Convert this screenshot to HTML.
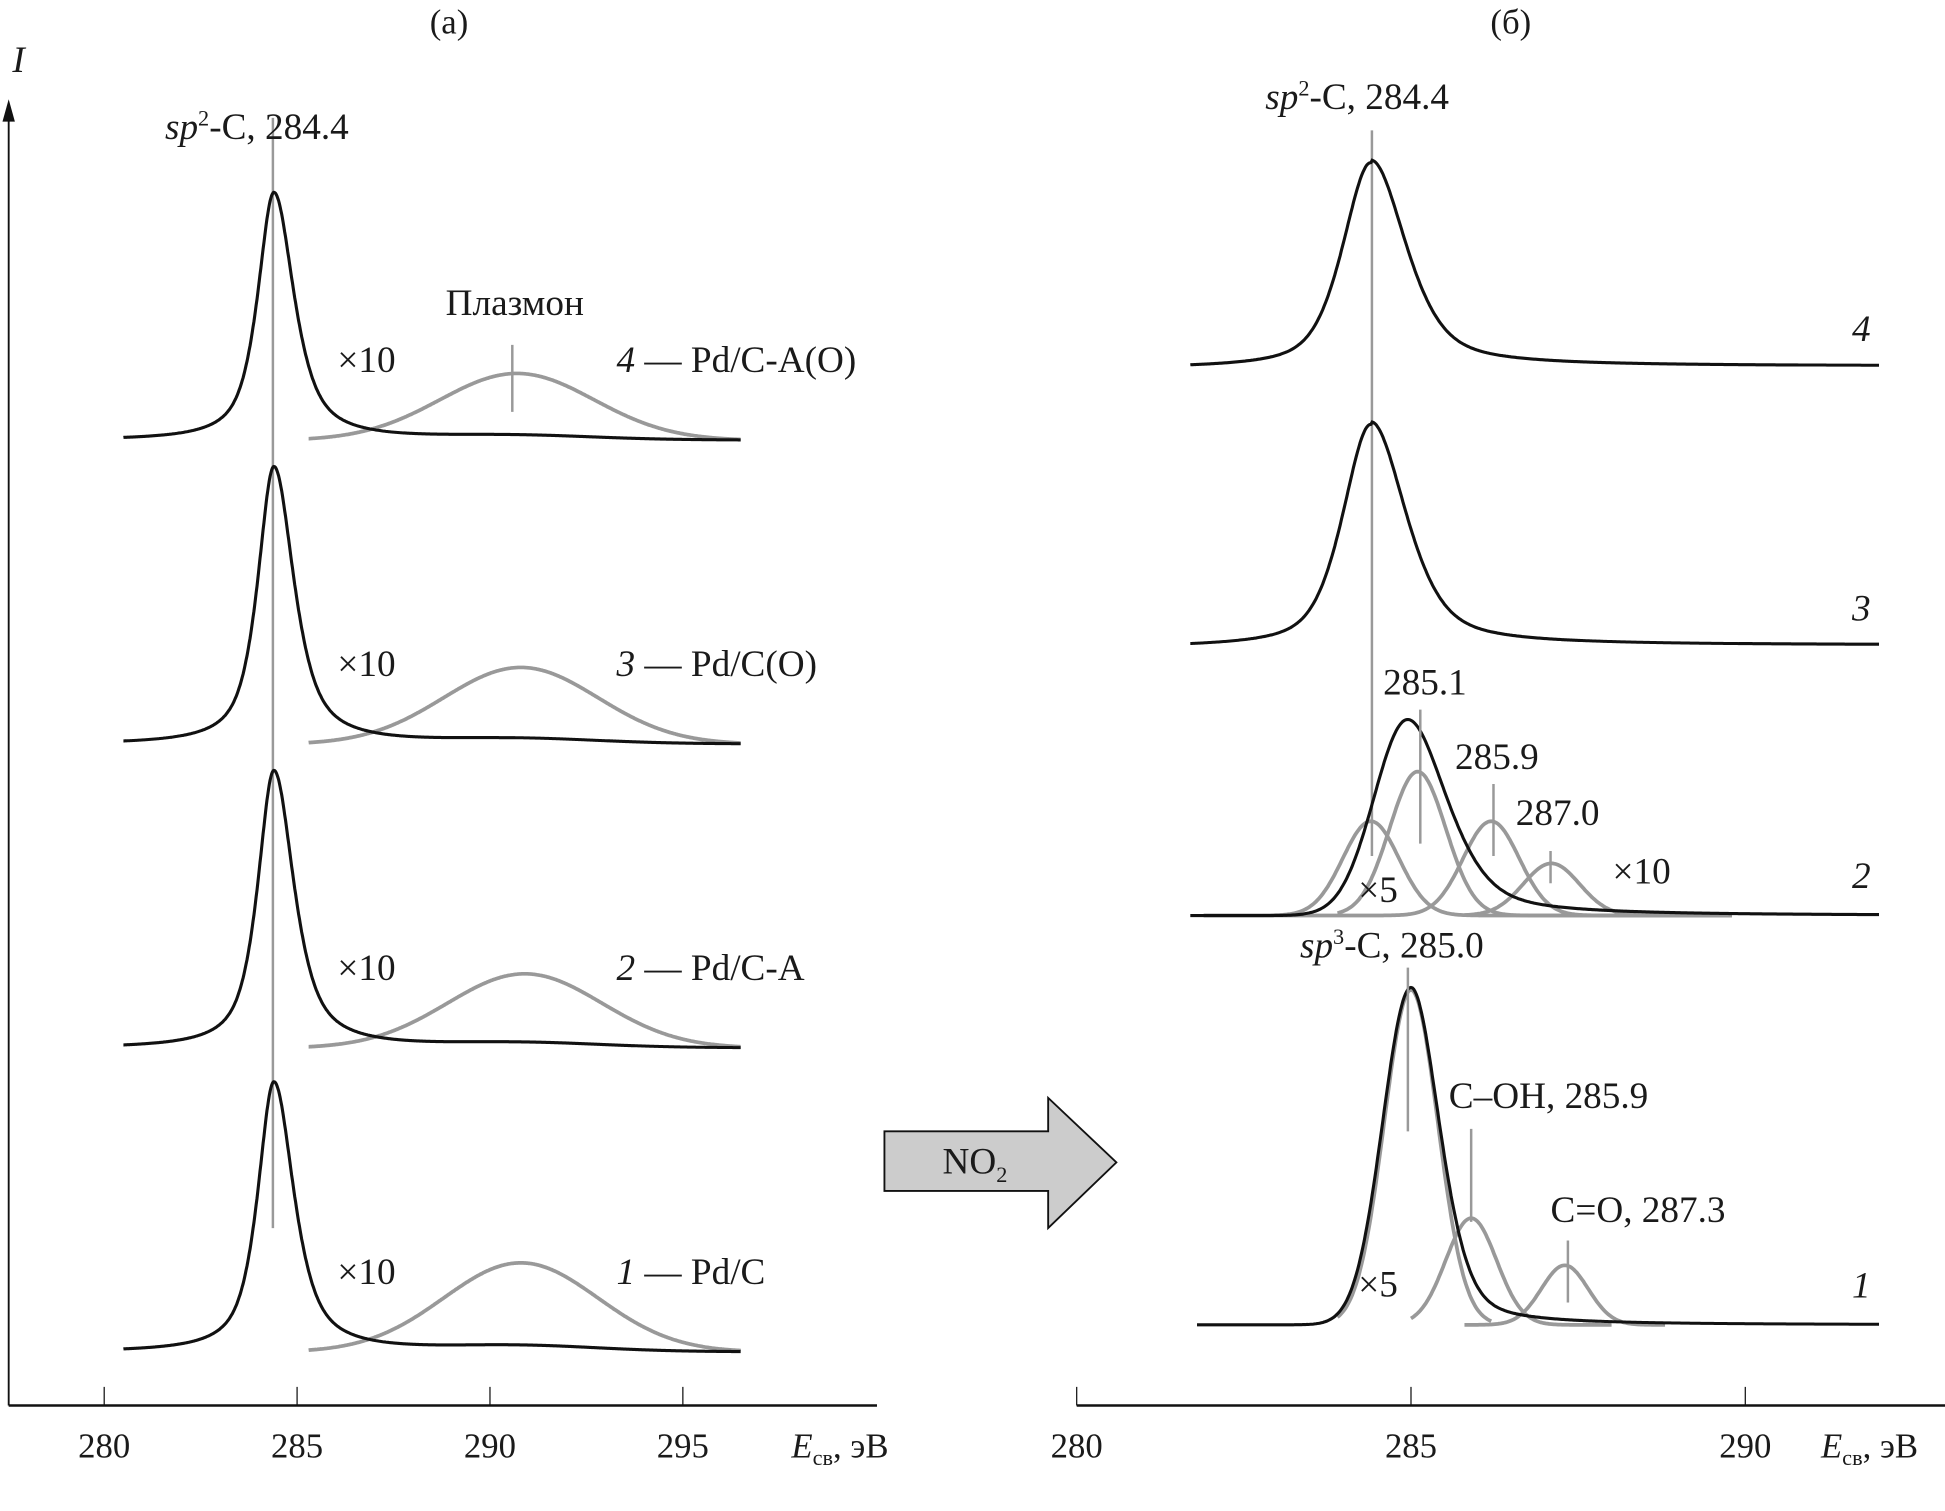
<!DOCTYPE html>
<html><head><meta charset="utf-8"><style>
html,body{margin:0;padding:0;background:#fff}
svg{display:block}
text{font-family:"Liberation Serif",serif;fill:#1a1a1a}
</style></head><body>
<svg id="c" width="1945" height="1511" viewBox="0 0 1568 1218" xmlns="http://www.w3.org/2000/svg">
<g id="g"></g>
</svg>
<script>
// Panel (a): spectra 4,3,2,1
const aLabels = ["4", "3", "2", "1"];
const aNames = ["Pd/C-A(O)", "Pd/C(O)", "Pd/C-A", "Pd/C"];
const aPeakE = [284.4, 284.4, 284.4, 284.4];
const aPeakH = [1.00, 1.12, 1.12, 1.09];
const aPlasmonE = [290.7, 290.8, 290.9, 290.8];
const aPlasmonH = [0.27, 0.31, 0.30, 0.36];
const aTicks = [280, 285, 290, 295];
// Panel (b)
const bTicks = [280, 285, 290];
const b43E = [284.4, 284.4];
const b43H = [0.83, 0.90];
const b2Env = [284.95, 0.79];
const b2CompE = [284.4, 285.1, 286.2, 287.1];
const b2CompH = [0.38, 0.58, 0.38, 0.21];
const b1Env = [285.0, 1.36];
const b1CompE = [285.0, 285.9, 287.3];
const b1CompH = [1.35, 0.43, 0.24];

const NS = "http://www.w3.org/2000/svg";
const g = document.getElementById("g");
function mk(tag, attrs, name, parent) {
  const e = document.createElementNS(NS, tag);
  for (const k in attrs) e.setAttribute(k, attrs[k]);
  
  
  (parent || g).appendChild(e);
  return e;
}
const SC = 200;
const xa = e => 84 + (e - 280) * 31.1;
const xb = e => 868 + (e - 280) * 53.9;
const aBase = [355, 600, 845, 1090];
const bBase = [297, 522, 738, 1068];

function lor(x, x0, wl, wr) { const w = x < x0 ? wl : wr; const d = (x - x0) / w; return 1 / (1 + d * d); }
function gau(x, x0, s) { const d = (x - x0) / s; return Math.exp(-0.5 * d * d); }
function pv(x, x0, wl, wr, m) { const w = x < x0 ? wl : wr; return m * lor(x, x0, w, w) + (1 - m) * gau(x, x0, w * 0.85); }
function path(fx, e0, e1, fy, base, X) {
  let d = "";
  for (let e = e0; e <= e1 + 1e-9; e += 0.02) {
    d += (d ? "L" : "M") + X(e).toFixed(1) + "," + (base - fy(e) * SC).toFixed(1);
  }
  return d;
}
function line(x1, y1, x2, y2, col, w, name) { mk("line", { x1, y1, x2, y2, stroke: col, "stroke-width": w }, name); }
function txt(x, y, s, size, name, anchor, style) {
  const t = mk("text", { x, y, "font-size": size, "text-anchor": anchor || "start" }, name);
  t.innerHTML = s; if (style) t.setAttribute("font-style", style); return t;
}
const GR = "#999", BK = "#111";
const FS = 30;

line(7, 1133, 707, 1133, BK, 2, "x-axis-a");
line(7, 1133, 7, 90, BK, 1.5, "y-axis");
mk("path", { d: "M7,80 L2,98 L12,98 Z", fill: BK }, "y-axis-arrow");
txt(10, 58, "I", FS, "y-axis-title", "start", "italic");
aTicks.forEach(t => { line(xa(t), 1133, xa(t), 1118, BK, 1, "x-tick-a"); txt(xa(t), 1175, t, 28, "x-tick-label-a", "middle"); });
txt(638, 1175, '<tspan font-style="italic">E</tspan><tspan font-size="18" dy="6">св</tspan><tspan dy="-6">, эВ</tspan>', 28, "x-axis-title-a");
txt(362, 27, "(а)", 28, "panel-label-a", "middle");
line(220, 95, 220, 990, GR, 2, "sp2-marker-a");
txt(133, 112, '<tspan font-style="italic">sp</tspan><tspan font-size="18" dy="-11">2</tspan><tspan dy="11">-C, 284.4</tspan>', FS, "sp2-label-a");
aLabels.forEach((lab, i) => {
  const b = aBase[i];
  mk("path", { d: path(null, 285.3, 296.5, e => aPlasmonH[i] * gau(e, aPlasmonE[i], 2.0), b, xa), fill: "none", stroke: GR, "stroke-width": 3 }, "plasmon-x10-" + lab);
  mk("path", { d: path(null, 280.5, 296.5, e => aPeakH[i] * pv(e, aPeakE[i], 0.5, 0.62, 0.75) + aPlasmonH[i] * 0.06 * gau(e, aPlasmonE[i], 2.0), b, xa), fill: "none", stroke: BK, "stroke-width": 2.5 }, "spectrum-a-" + lab);
  txt(272, b - 55, "×10", FS, "x10-label-" + lab);
  txt(497, b - 55, '<tspan font-style="italic">' + lab + '</tspan> — ' + aNames[i], FS, "series-label-" + lab);
});
line(413, 278, 413, 332, GR, 2, "plasmon-marker");
txt(415, 254, "Плазмон", FS, "plasmon-label", "middle");

mk("path", { d: "M713,912 L845,912 L845,885 L900,937 L845,990 L845,960 L713,960 Z", fill: "#ccc", stroke: BK, "stroke-width": 1.5 }, "no2-arrow");
txt(786, 946, 'NO<tspan font-size="18" dy="7">2</tspan>', FS, "no2-label", "middle");

line(868, 1133, 1568, 1133, BK, 2, "x-axis-b");
bTicks.forEach(t => { line(xb(t), 1133, xb(t), 1118, BK, 1, "x-tick-b"); txt(xb(t), 1175, t, 28, "x-tick-label-b", "middle"); });
txt(1468, 1175, '<tspan font-style="italic">E</tspan><tspan font-size="18" dy="6">св</tspan><tspan dy="-6">, эВ</tspan>', 28, "x-axis-title-b");
txt(1218, 27, "(б)", 28, "panel-label-b", "middle");
line(1106, 105, 1106, 690, GR, 2, "sp2-marker-b");
txt(1020, 88, '<tspan font-style="italic">sp</tspan><tspan font-size="18" dy="-11">2</tspan><tspan dy="11">-C, 284.4</tspan>', FS, "sp2-label-b");

["4", "3"].forEach((lab, i) => {
  const b = bBase[i];
  mk("path", { d: path(null, 281.7, 292.0, e => b43H[i] * pv(e, b43E[i], 0.5, 0.62, 0.55) + (e > 284.4 ? 0.01 : 0), b, xb), fill: "none", stroke: BK, "stroke-width": 2.5 }, "spectrum-b-" + lab);
  txt(1493, b - 22, lab, FS, "series-label-b-" + lab, "start", "italic");
});
{
  const b = bBase[2];
  b2CompE.forEach((e0, k) => {
    const lo = k === 3 ? 285.8 : (k === 1 ? 283.9 : 281.9);
    mk("path", { d: path(null, lo, 289.8, e => b2CompH[k] * gau(e, e0, 0.42), b, xb), fill: "none", stroke: GR, "stroke-width": 3 }, "component-2-" + e0);
  });
  mk("path", { d: path(null, 281.7, 292.0, e => b2Env[1] * (e < b2Env[0] ? gau(e, b2Env[0], 0.5) : pv(e, b2Env[0], 0.7, 0.7, 0.5)), b, xb), fill: "none", stroke: BK, "stroke-width": 2.5 }, "spectrum-b-2");
  line(1145, 572, 1145, 680, GR, 2, "marker-285-1");
  line(1204, 632, 1204, 690, GR, 2, "marker-285-9");
  line(1250, 686, 1250, 712, GR, 2, "marker-287-0");
  txt(1115, 560, "285.1", FS, "label-285-1");
  txt(1173, 620, "285.9", FS, "label-285-9");
  txt(1222, 665, "287.0", FS, "label-287-0");
  txt(1095, 727, "×5", FS, "x5-label-2");
  txt(1300, 712, "×10", FS, "x10-label-2");
  txt(1493, b - 22, "2", FS, "series-label-b-2", "start", "italic");
}
{
  const b = bBase[3];
  const lo = [283.9, 285.0, 285.8];
  const hi = [286.2, 288.0, 288.8];
  b1CompE.forEach((e0, k) => {
    mk("path", { d: path(null, lo[k], hi[k], e => b1CompH[k] * gau(e, e0, [0.4, 0.38, 0.35][k]), b, xb), fill: "none", stroke: GR, "stroke-width": 3 }, "component-1-" + e0);
  });
  mk("path", { d: path(null, 281.8, 292.0, e => b1Env[1] * (e < b1Env[0] ? gau(e, b1Env[0], 0.42) : pv(e, b1Env[0], 0.5, 0.5, 0.35)), b, xb), fill: "none", stroke: BK, "stroke-width": 2.5 }, "spectrum-b-1");
  line(1135, 780, 1135, 912, GR, 2, "marker-sp3");
  line(1186, 910, 1186, 985, GR, 2, "marker-c-oh");
  line(1264, 1000, 1264, 1050, GR, 2, "marker-c-o");
  txt(1048, 772, '<tspan font-style="italic">sp</tspan><tspan font-size="18" dy="-11">3</tspan><tspan dy="11">-C, 285.0</tspan>', FS, "sp3-label");
  txt(1168, 893, "C–OH, 285.9", FS, "c-oh-label");
  txt(1250, 985, "C=O, 287.3", FS, "c-o-label");
  txt(1095, 1045, "×5", FS, "x5-label-1");
  txt(1493, b - 22, "1", FS, "series-label-b-1", "start", "italic");
}
</script>
</body></html>
